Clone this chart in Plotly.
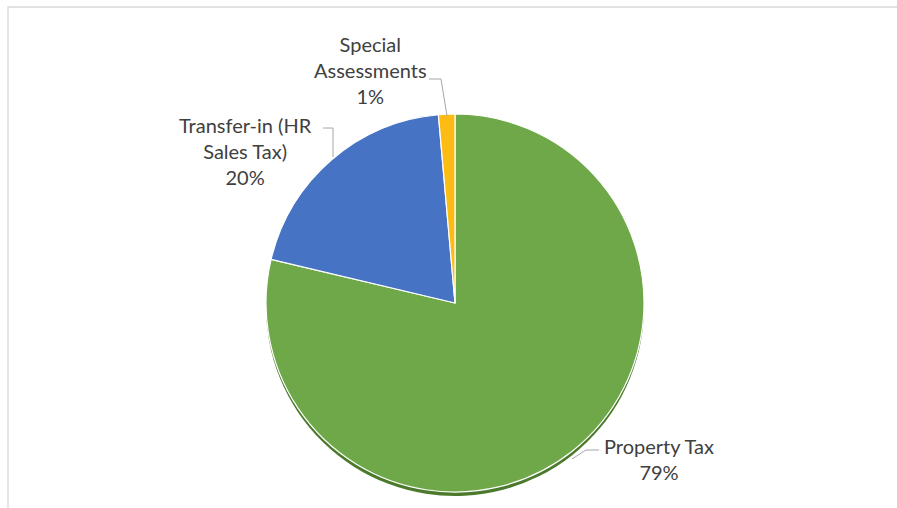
import plotly.graph_objects as go

# ---- data ----
categories = ["Property Tax", "Transfer-in (HR Sales Tax)", "Special Assessments"]
values = [78.7, 19.9, 1.4]
label_lines = [["Property Tax"], ["Transfer-in (HR", "Sales Tax)"], ["Special", "Assessments"]]
colors = ["#6ea848", "#4673c3", "#fdbb14"]
shadow_colors = ["#4b7a2c", "#4b7a2c", "#4b7a2c"]

W, H = 897, 508
total = sum(values)
pcts = [f"{round(v / total * 100)}%" for v in values]


def px(x):
    return x / W


def py(y):
    return 1 - y / H


cx, cy, r = 455, 303, 189
shadow_dy = 4

fig = go.Figure()
# shadow pie (drawn first, slightly lower)
fig.add_trace(go.Pie(
    labels=categories, values=values, sort=False, direction="clockwise", rotation=0,
    marker=dict(colors=shadow_colors, line=dict(width=0)),
    textinfo="none", hoverinfo="skip", showlegend=False,
    domain=dict(x=[px(cx - r), px(cx + r)], y=[py(cy + r + shadow_dy), py(cy - r + shadow_dy)]),
))
fig.add_trace(go.Pie(
    labels=categories, values=values, sort=False, direction="clockwise", rotation=0,
    marker=dict(colors=colors, line=dict(color="#ffffff", width=1.2)),
    textinfo="none", showlegend=False,
    domain=dict(x=[px(cx - r), px(cx + r)], y=[py(cy + r), py(cy - r)]),
))

font = dict(family="Lato, 'Open Sans', sans-serif", size=20, color="#404040")
label_pos = [(659, 459), (245, 151), (370, 70)]
for lines, pct, (lx, ly) in zip(label_lines, pcts, label_pos):
    fig.add_annotation(
        x=px(lx), y=py(ly), xref="paper", yref="paper",
        text="<br>".join(lines + [pct]), showarrow=False,
        font=font, align="center", xanchor="center", yanchor="middle",
    )

# leader lines
leaders = [
    [(599, 450), (586, 450), (572, 459)],
    [(323, 128), (333, 128), (333, 157)],
    [(429, 79), (441, 79), (447, 116)],
]
shapes = []
for pts in leaders:
    path = "M " + " L ".join(f"{px(x)},{py(y)}" for x, y in pts)
    shapes.append(dict(type="path", xref="paper", yref="paper", path=path,
                       line=dict(color="#a6a6a6", width=1)))
# chart frame
shapes.append(dict(type="rect", xref="paper", yref="paper",
                   x0=px(8), x1=px(W + 10), y0=py(H + 10), y1=py(7),
                   line=dict(color="#d9d9d9", width=1.3)))

fig.update_layout(
    width=W, height=H, margin=dict(l=0, r=0, t=0, b=0),
    paper_bgcolor="white", plot_bgcolor="white",
    shapes=shapes, showlegend=False,
)
fig.write_html("out.html")
